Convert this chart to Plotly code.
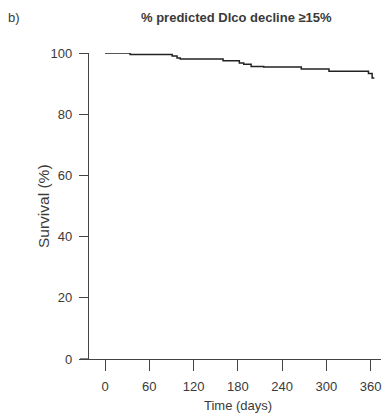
import plotly.graph_objects as go

# Kaplan-Meier step data
days = [0, 34, 91, 97.6, 102, 160, 182, 188, 198, 215, 266, 303.5, 357, 362, 365]
survival = [100, 99.5, 99.0, 98.4, 98.0, 97.5, 96.7, 96.3, 95.6, 95.4, 94.8, 94.0, 93.3, 91.8, 91.8]

x_ticks = [0, 60, 120, 180, 240, 300, 360]
y_ticks = [0, 20, 40, 60, 80, 100]

FONT = "Liberation Sans Narrow, Liberation Sans, Arial, sans-serif"
TXT = "#3a3a3a"
AX = "#444444"

L, R, T, B = 89, 4, 53, 56
W, H = 385, 415
pw, ph = W - L - R, H - T - B

fig = go.Figure()
fig.add_trace(go.Scatter(
    x=days, y=survival, mode="lines", line_shape="hv",
    line=dict(color="#222222", width=1.5), cliponaxis=False, showlegend=False,
))

fig.update_layout(
    width=W, height=H,
    margin=dict(l=L, r=R, t=T, b=B),
    paper_bgcolor="white", plot_bgcolor="white",
    font=dict(family=FONT, size=13, color=TXT),
    xaxis=dict(
        range=[-21.7, 374], tickvals=x_ticks, ticks="outside", ticklen=11,
        tickcolor=AX, tickwidth=1.3, showline=True, linecolor=AX, linewidth=1.3,
        showgrid=False, zeroline=False, ticklabelstandoff=4,
        tickfont=dict(family=FONT, size=13, color=TXT),
    ),
    yaxis=dict(
        range=[0, 100], tickvals=y_ticks, ticks="outside", ticklen=9,
        tickcolor=AX, tickwidth=1.3, showline=True, linecolor=AX, linewidth=1.3,
        showgrid=False, zeroline=False,
        ticklabelstandoff=4, tickfont=dict(family=FONT, size=13, color=TXT),
    ),
    shapes=[dict(type="line", xref="paper", yref="paper", x0=(80 - L) / pw, x1=0, y0=0, y1=0,
                 line=dict(color=AX, width=1.3))],
    annotations=[
        dict(text="<b>% predicted Dlco decline ≥15%</b>", x=236.5, y=18,
             showarrow=False, font=dict(family=FONT, size=13, color=TXT)),
        dict(text="b)", x=14, y=18, showarrow=False, font=dict(family=FONT, size=13, color=TXT)),
        dict(text="Time (days)", x=238, y=405, showarrow=False, font=dict(family=FONT, size=13, color=TXT)),
        dict(text="Survival (%)", x=43, y=206, showarrow=False, textangle=-90,
             font=dict(family=FONT, size=15.5, color=TXT)),
    ],
)

# convert pixel-placed annotations into paper coordinates
for a in fig.layout.annotations:
    a.xref = "paper"; a.yref = "paper"
    a.x = (a.x - L) / pw
    a.y = (H - B - a.y) / ph
    a.xanchor = "center"; a.yanchor = "middle"

fig.write_html("out.html")
